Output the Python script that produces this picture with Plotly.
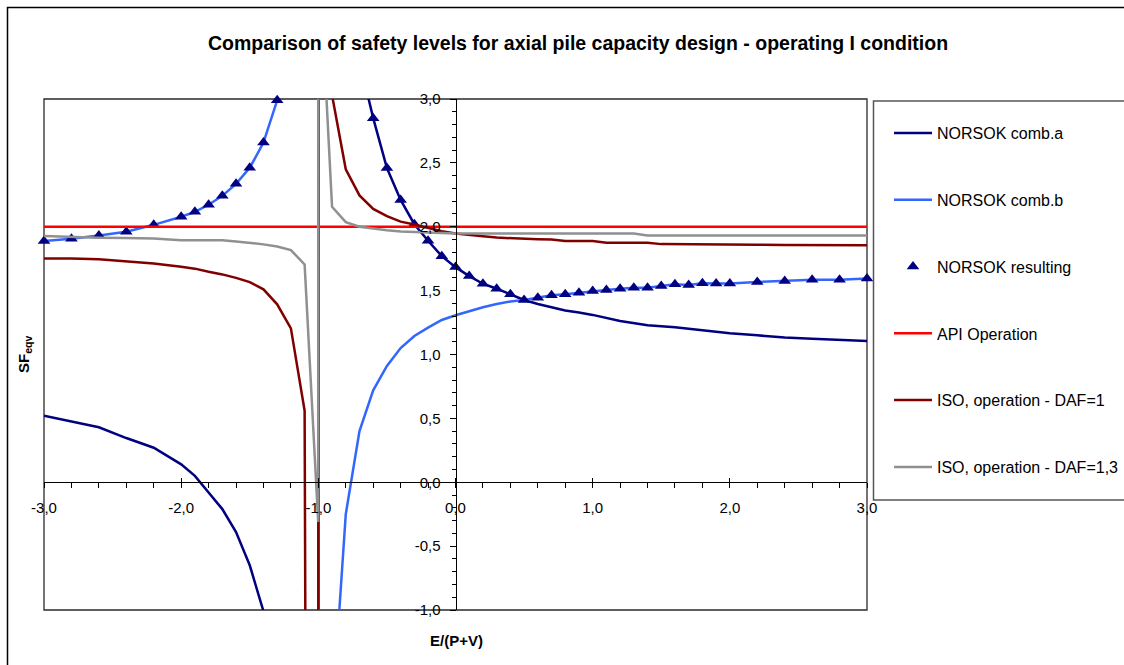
import plotly.graph_objects as go

# ---------------- data ----------------
comb_a_x = [-3.0, -2.8, -2.6, -2.4, -2.2, -2.0, -1.9, -1.8, -1.7, -1.6, -1.5, -1.4, -1.3, -1.2, -1.1,
            -1.001, -0.999, -0.9, -0.8, -0.7, -0.6, -0.5, -0.4, -0.3, -0.2, -0.1, 0.0, 0.1, 0.2, 0.3,
            0.4, 0.5, 0.6, 0.7, 0.8, 0.9, 1.0, 1.2, 1.4, 1.6, 1.8, 2.0, 2.2, 2.4, 2.6, 2.8, 3.0]
comb_a_y = [0.52, 0.474, 0.43, 0.346, 0.27, 0.14, 0.05, -0.08, -0.21, -0.39, -0.65, -1.01, -1.6, -2.5, -5.0,
            -500, 500, 8.0, 5.0, 3.3, 2.85, 2.46, 2.21, 2.02, 1.89, 1.77, 1.684, 1.614, 1.554, 1.515,
            1.471, 1.427, 1.395, 1.367, 1.345, 1.328, 1.31, 1.263, 1.229, 1.213, 1.19, 1.166, 1.15, 1.133, 1.124, 1.115, 1.106]

comb_b_x = [-3.0, -2.8, -2.6, -2.4, -2.2, -2.0, -1.9, -1.8, -1.7, -1.6, -1.5, -1.4, -1.3, -1.2, -1.1,
            -1.001, -0.999, -0.9, -0.8, -0.7, -0.6, -0.5, -0.4, -0.3, -0.2, -0.1, 0.0, 0.1, 0.2, 0.3,
            0.4, 0.5, 0.6, 0.7, 0.8, 0.9, 1.0, 1.1, 1.2, 1.3, 1.4, 1.5, 1.6, 1.7, 1.8, 1.9, 2.0,
            2.2, 2.4, 2.6, 2.8, 3.0]
comb_b_y = [1.888, 1.906, 1.932, 1.961, 2.015, 2.078, 2.117, 2.172, 2.242, 2.336, 2.461, 2.659, 2.99, 3.6, 5.0,
            500, -500, -1.85, -0.25, 0.40, 0.72, 0.91, 1.05, 1.145, 1.21, 1.27, 1.307, 1.34, 1.37, 1.395,
            1.415, 1.427, 1.445, 1.463, 1.471, 1.484, 1.497, 1.505, 1.515, 1.523, 1.523, 1.536, 1.549, 1.544, 1.557, 1.555, 1.555,
            1.567, 1.575, 1.586, 1.586, 1.594]

res_x = [-3.0, -2.8, -2.6, -2.4, -2.2, -2.0, -1.9, -1.8, -1.7, -1.6, -1.5, -1.4, -1.3,
         -0.6, -0.5, -0.4, -0.3, -0.2, -0.1, 0.0, 0.1, 0.2, 0.3, 0.4, 0.5, 0.6, 0.7, 0.8, 0.9,
         1.0, 1.1, 1.2, 1.3, 1.4, 1.5, 1.6, 1.7, 1.8, 1.9, 2.0, 2.2, 2.4, 2.6, 2.8, 3.0]
res_y = [1.888, 1.906, 1.932, 1.961, 2.015, 2.078, 2.117, 2.172, 2.242, 2.336, 2.461, 2.659, 2.99,
         2.85, 2.46, 2.21, 2.02, 1.89, 1.77, 1.684, 1.614, 1.554, 1.515, 1.471, 1.427, 1.445, 1.463, 1.471, 1.484,
         1.497, 1.505, 1.515, 1.523, 1.523, 1.536, 1.549, 1.544, 1.557, 1.555, 1.555, 1.567, 1.575, 1.586, 1.586, 1.594]

api_x = [-3.0, 3.0]
api_y = [2.0, 2.0]

iso1_x = [-3.0, -2.8, -2.6, -2.4, -2.2, -2.0, -1.9, -1.8, -1.7, -1.6, -1.5, -1.4, -1.3, -1.2, -1.1,
          -1.001, -0.999, -0.9, -0.8, -0.7, -0.6, -0.5, -0.4, -0.3, -0.2, -0.1, 0.0, 0.1, 0.2, 0.3,
          0.4, 0.5, 0.6, 0.7, 0.8, 0.9, 1.0, 1.1, 1.2, 1.3, 1.4, 1.5, 1.6, 1.8, 2.0, 2.2, 2.4, 2.6, 2.8, 3.0]
iso1_y = [1.752, 1.752, 1.745, 1.731, 1.712, 1.687, 1.672, 1.648, 1.627, 1.60, 1.567, 1.51, 1.393, 1.205, 0.56,
          -30, 30, 3.03, 2.45, 2.245, 2.14, 2.083, 2.04, 2.018, 1.99, 1.965, 1.948, 1.935, 1.925, 1.915,
          1.909, 1.905, 1.902, 1.90, 1.888, 1.888, 1.888, 1.875, 1.875, 1.875, 1.875, 1.864, 1.864, 1.864, 1.864,
          1.859, 1.857, 1.856, 1.856, 1.856]

iso13_x = [-3.0, -2.8, -2.6, -2.4, -2.2, -2.0, -1.9, -1.8, -1.7, -1.6, -1.5, -1.4, -1.3, -1.2, -1.1,
           -1.001, -0.999, -0.95, -0.9, -0.8, -0.7, -0.6, -0.5, -0.4, -0.3, -0.2, -0.1, 0.0, 0.2, 0.4,
           0.6, 0.8, 1.0, 1.2, 1.3, 1.4, 1.6, 1.8, 2.0, 2.2, 2.4, 2.6, 2.8, 3.0]
iso13_y = [1.927, 1.92, 1.914, 1.912, 1.909, 1.895, 1.895, 1.895, 1.895, 1.885, 1.875, 1.862, 1.845, 1.817, 1.705,
           -0.31, 40, 3.2, 2.156, 2.036, 2.0, 1.984, 1.972, 1.962, 1.958, 1.955, 1.952, 1.948, 1.948, 1.948,
           1.948, 1.948, 1.948, 1.948, 1.948, 1.932, 1.932, 1.932, 1.932, 1.932, 1.932, 1.932, 1.932, 1.932]

x_tickvals = [-3, -2, -1, 0, 1, 2, 3]
x_ticktext = ["-3,0", "-2,0", "-1,0", "0,0", "1,0", "2,0", "3,0"]
y_tickvals = [-1, -0.5, 0, 0.5, 1, 1.5, 2, 2.5, 3]
y_ticktext = ["-1,0", "-0,5", "0,0", "0,5", "1,0", "1,5", "2,0", "2,5", "3,0"]

TITLE = "Comparison of safety levels for axial pile capacity design - operating I condition"

# ---------------- layout constants ----------------
W, H = 1124, 665
ML, MR, MT, MB = 44, 257, 99, 55
PW, PH = W - ML - MR, H - MT - MB
FONT = "Liberation Sans, Arial, sans-serif"


def px2paper_x(px):
    return (px - ML) / PW


def py2paper_y(py):
    return (H - MB - py) / PH


fig = go.Figure()
for name, xs, ys, col in [
    ("NORSOK comb.a", comb_a_x, comb_a_y, "#000080"),
    ("NORSOK comb.b", comb_b_x, comb_b_y, "#3366FF"),
]:
    fig.add_trace(go.Scatter(x=xs, y=ys, mode="lines", name=name, legendgroup=name,
                             line=dict(color=col, width=2.5)))
fig.add_trace(go.Scatter(x=res_x, y=res_y, mode="markers", name="NORSOK resulting",
                         legendgroup="res", cliponaxis=False,
                         marker=dict(symbol="triangle-up", size=11, color="#000080")))
for name, xs, ys, col in [
    ("API Operation", api_x, api_y, "#FF0000"),
    ("ISO, operation - DAF=1", iso1_x, iso1_y, "#800000"),
    ("ISO, operation - DAF=1,3", iso13_x, iso13_y, "#909090"),
]:
    fig.add_trace(go.Scatter(x=xs, y=ys, mode="lines", name=name, legendgroup=name,
                             line=dict(color=col, width=2.5)))

# helper trace for the cross-tick overlay axis
fig.add_trace(go.Scatter(x=[None], y=[None], xaxis="x2", showlegend=False, hoverinfo="skip"))

tickfont = dict(family=FONT, size=15, color="black")
fig.update_layout(
    width=W, height=H, autosize=False,
    margin=dict(l=ML, r=MR, t=MT, b=MB, pad=0, autoexpand=False),
    paper_bgcolor="white", plot_bgcolor="white",
    font=dict(family=FONT, size=15, color="black"),
    showlegend=True,
    title=dict(text="<b>" + TITLE + "</b>", x=578 / W, xref="container", xanchor="center",
               y=1 - 43 / H, yref="container", yanchor="middle",
               font=dict(family=FONT, size=19.5, color="black")),
    xaxis=dict(range=[-3, 3], anchor="free", position=0.25, showgrid=False, zeroline=False,
               showline=True, linecolor="black", linewidth=1, automargin=False,
               tickmode="array", tickvals=x_tickvals, ticktext=x_ticktext,
               ticks="outside", ticklen=5, tickcolor="black", tickwidth=1,
               ticklabelstandoff=7, tickfont=tickfont,
               minor=dict(tickmode="linear", tick0=-3, dtick=0.2, ticks="outside",
                          ticklen=5, tickcolor="black", tickwidth=1, showgrid=False)),
    xaxis2=dict(range=[-3, 3], overlaying="x", anchor="free", position=0.25, showgrid=False,
                zeroline=False, showline=False, tickmode="array", tickvals=x_tickvals,
                ticks="inside", ticklen=4, tickcolor="black", tickwidth=1, showticklabels=False),
    yaxis=dict(range=[-1, 3], anchor="free", position=0.5, showgrid=False, zeroline=False,
               showline=True, linecolor="black", linewidth=1, automargin=False,
               tickmode="array", tickvals=y_tickvals, ticktext=y_ticktext,
               ticks="outside", ticklen=6, tickcolor="black", tickwidth=1,
               ticklabelstandoff=6, tickfont=tickfont,
               minor=dict(tickmode="linear", tick0=-1, dtick=0.1, ticks="outside",
                          ticklen=4, tickcolor="black", tickwidth=1, showgrid=False)),
    legend=dict(xref="container", yref="container", x=889 / W, y=1 - 116 / H,
                xanchor="left", yanchor="top", maxheight=650,
                bgcolor="rgba(0,0,0,0)", borderwidth=0, tracegroupgap=43,
                itemwidth=38, font=dict(family=FONT, size=16, color="black")),
)

# plot-area frame, legend frame, outer chart frame
fig.add_shape(type="rect", xref="paper", yref="paper", x0=0, x1=1, y0=0, y1=1,
              line=dict(color="#2a2a2a", width=1.3), layer="below")
fig.add_shape(type="rect", xref="paper", yref="paper",
              x0=px2paper_x(873.5), x1=px2paper_x(1140), y0=py2paper_y(500), y1=py2paper_y(101),
              line=dict(color="#555555", width=1.5))
fig.add_shape(type="rect", xref="paper", yref="paper",
              x0=px2paper_x(7.5), x1=px2paper_x(1140), y0=py2paper_y(690), y1=py2paper_y(7.5),
              line=dict(color="black", width=1.5))

# axis titles
fig.add_annotation(text="<b>E/(P+V)</b>", xref="paper", yref="paper",
                   x=px2paper_x(456), y=py2paper_y(640), xanchor="center", yanchor="middle",
                   showarrow=False, font=dict(family=FONT, size=15, color="black"))
fig.add_annotation(text="<b>SF<sub>eqv</sub></b>", xref="paper", yref="paper",
                   x=px2paper_x(24), y=py2paper_y(355), xanchor="center", yanchor="middle",
                   showarrow=False, textangle=-90,
                   font=dict(family=FONT, size=15, color="black"))

fig.write_html("out.html")
